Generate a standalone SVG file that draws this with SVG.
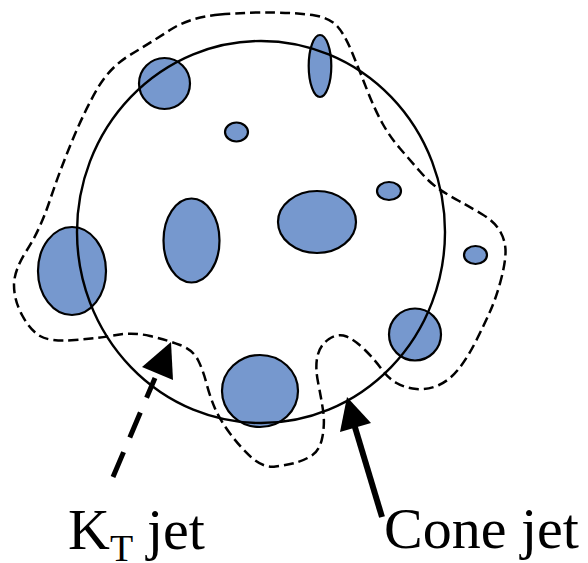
<svg xmlns="http://www.w3.org/2000/svg" width="588" height="563" viewBox="0 0 588 563">
<style>
.blob{fill:#7698CE;stroke:#000;stroke-width:2.2}
.cone{fill:none;stroke:#000;stroke-width:2.4}
.kt{fill:none;stroke:#000;stroke-width:2.5;stroke-dasharray:10 5}
.lbl{font-family:"Liberation Serif","Times New Roman",serif;font-size:58px;fill:#000}
.sub{font-family:"Liberation Serif","Times New Roman",serif;font-size:38px;fill:#000}
</style>
<rect width="588" height="563" fill="#fff"/>
<g id="kt-outline">
<path class="kt" d="M220,14.5 Q250,12 275,12.5 Q300,13 315,15.5 Q330,18 337.5,26.5 Q345,35 352.5,53.5 Q360,72 367.5,91 Q375,110 382.5,123.5 Q390,137 400,148.5 Q410,160 420,171.5 Q430,183 439,189 Q448,195 459,201 Q470,207 482.5,214.5 Q495,222 500.5,232 Q506,242 505.5,253.5 Q505,265 500.5,281.5 Q496,298 490.5,310.5 Q485,323 476.5,340 Q468,357 459,368.5 Q450,380 439,385 Q428,390 416.5,389 Q405,388 396.5,383 Q388,378 381.5,369 Q375,360 365,350 Q355,340 346.5,336.5 Q338,333 329,339 Q320,345 317.5,356 Q315,367 318,382 Q321,397 323,410 Q325,423 322.5,436.5 Q320,450 312.5,455 Q305,460 296.5,462.5 Q288,465 275.5,466.5 Q263,468 251.5,457.5 Q240,447 230,433.5 Q220,420 215,408.5 Q210,397 206.5,383.5 Q203,370 198,360 Q193,350 180,345 Q167,340 150,336 Q133,332 116.5,335 Q100,338 75,340 Q50,342 40,336 Q30,330 22,315 Q14,300 14,285 Q14,270 27,250 Q40,230 50,200 Q60,170 72.5,140 Q85,110 97.5,88.5 Q110,67 130,55 Q150,43 170,30 Q190,17 220,14.5 Z"/>
</g>
<g id="blobs">
<circle id="b1" class="blob" cx="164.5" cy="83.5" r="25.5"/>
<ellipse id="b2" class="blob" cx="320" cy="66" rx="11.3" ry="31"/>
<ellipse id="b3" class="blob" cx="236.5" cy="132" rx="11.5" ry="9.5"/>
<ellipse id="b4" class="blob" cx="389" cy="191" rx="12" ry="9"/>
<ellipse id="b5" class="blob" cx="317" cy="222" rx="39" ry="31"/>
<ellipse id="b6" class="blob" cx="191.5" cy="240.5" rx="28" ry="42"/>
<ellipse id="b7" class="blob" cx="72" cy="271" rx="34" ry="44"/>
<ellipse id="b8" class="blob" cx="475.5" cy="255" rx="11.5" ry="9"/>
<circle id="b9" class="blob" cx="415" cy="334.5" r="26"/>
<ellipse id="b10" class="blob" cx="260" cy="391" rx="38" ry="36"/>
</g>
<g id="cone-circle">
<ellipse class="cone" cx="261" cy="232" rx="184" ry="191"/>
</g>
<g id="connectors">
<line x1="113" y1="477" x2="155" y2="378" stroke="#000" stroke-width="5" stroke-dasharray="27 16"/>
<polygon points="171,342 142,367 173,380" fill="#000"/>
<line x1="382" y1="517" x2="354" y2="424" stroke="#000" stroke-width="6"/>
<polygon points="347,397 340,432 371,423" fill="#000"/>
</g>
<g id="labels">
<text class="lbl" x="68" y="549">K</text>
<text class="sub" x="110" y="561">T</text>
<text class="lbl" x="147" y="549">jet</text>
<text class="lbl" x="384" y="548">Cone jet</text>
</g>
</svg>
